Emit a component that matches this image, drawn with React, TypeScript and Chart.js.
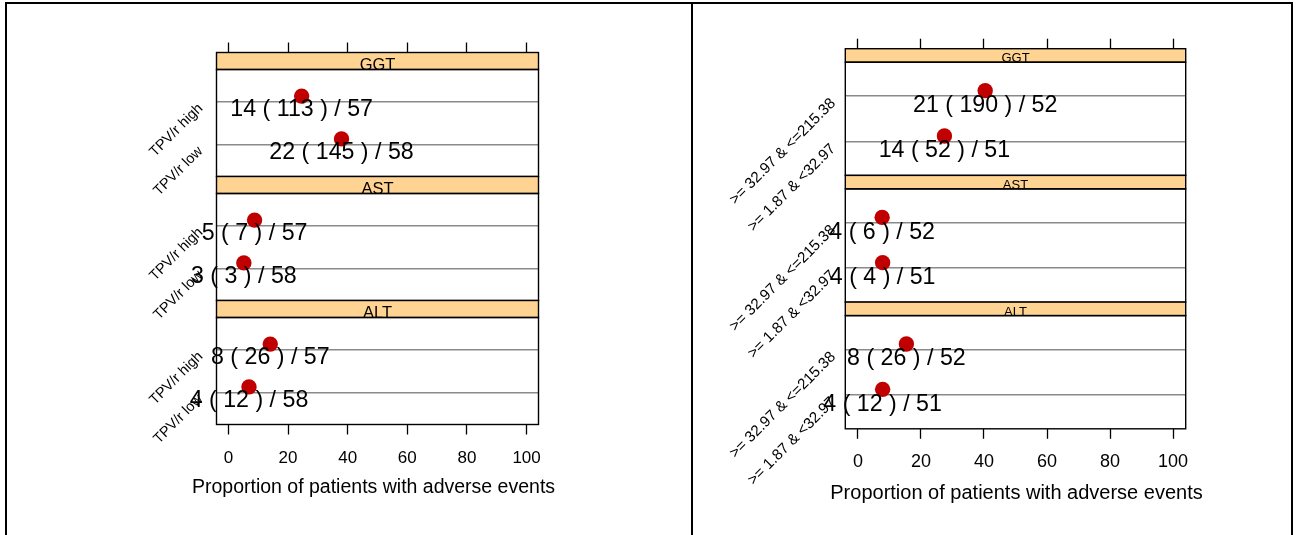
import React, { useEffect, useRef } from 'react';
import { Chart, registerables } from 'chart.js';

Chart.register(...registerables);

// ---------------- data ----------------
const facets = ['GGT', 'AST', 'ALT'];
const xTicks = [0, 20, 40, 60, 80, 100];
const xTitle = 'Proportion of patients with adverse events';

// group index 0 = bottom row, 1 = top row
const leftGroups = ['TPV/r low', 'TPV/r high'];
const leftTotals = [58, 57];
const leftPatients = [
  [22, 14], // GGT
  [3, 5], // AST
  [4, 8], // ALT
];
const leftEvents = [
  [145, 113],
  [3, 7],
  [12, 26],
];

const rightGroups = ['>= 1.87 & <32.97', '>= 32.97 & <=215.38'];
const rightTotals = [51, 52];
const rightPatients = [
  [14, 21],
  [4, 4],
  [4, 8],
];
const rightEvents = [
  [52, 190],
  [4, 6],
  [12, 26],
];

// ---------------- layout / style ----------------
const FONT = 'Arial, Helvetica, sans-serif';
const STRIP_FILL = '#FFD391';
const POINT_COLOR = '#C00000';
const GRID_COLOR = '#8a8a8a';
const CANVAS_H = 535;

type Layout = {
  canvasX: number; canvasW: number; panelL: number; panelR: number; yAxisW: number;
  stripTop: number; stripH: number; panelH: number; tickLen: number;
  yFont: number; yPad: number; yOff: number; stripFont: number;
  tickFont: number; tickPad: number; titleFont: number; titleDx: number; titleDy: number; axisH: number;
  valueFont: number; valueBase: number; lift: number; pointR: number;
};

const LAYOUTS: Layout[] = [
  {
    canvasX: 0, canvasW: 692, panelL: 216.5, panelR: 538.5, yAxisW: 200,
    stripTop: 52.5, stripH: 17, panelH: 107, tickLen: 10,
    yFont: 14.5, yPad: 16, yOff: 4.5, stripFont: 16.5,
    tickFont: 17, tickPad: 13.3, titleFont: 19.5, titleDx: -4, titleDy: 63.5, axisH: 80,
    valueFont: 23.2, valueBase: 14.3, lift: 5.5, pointR: 7.7,
  },
  {
    canvasX: 692, canvasW: 604, panelL: 845.3, panelR: 1185.7, yAxisW: 150,
    stripTop: 48.7, stripH: 13.5, panelH: 113.2, tickLen: 10,
    yFont: 15.2, yPad: 12, yOff: 5, stripFont: 13,
    tickFont: 18, tickPad: 12.1, titleFont: 20, titleDx: 1, titleDy: 64.5, axisH: 80,
    valueFont: 23.2, valueBase: 15.8, lift: 5.5, pointR: 7.7,
  },
];

const SIDES = [
  { groups: leftGroups, totals: leftTotals, patients: leftPatients, events: leftEvents },
  { groups: rightGroups, totals: rightTotals, patients: rightPatients, events: rightEvents },
];

function makePanel(canvas: HTMLCanvasElement, s: number, i: number) {
  const L = LAYOUTS[s];
  const side = SIDES[s];
  const pct = side.patients[i].map((n, g) => (n / side.totals[g]) * 100);
  const labels = side.patients[i].map((n, g) => `${n} ( ${side.events[i][g]} ) / ${side.totals[g]}`);

  const panelTop = L.stripTop + i * (L.stripH + L.panelH) + L.stripH;
  const panelBottom = panelTop + L.panelH;
  const topAxisH = i === 0 ? L.tickLen + L.stripH : 0;
  const bottomAxisH = i === 2 ? L.axisH : 0;

  const deco = {
    id: 'deco' + s + i,
    beforeDatasetDraw(chart: any) {
      chart.ctx.save();
      chart.ctx.translate(0, -L.lift);
    },
    afterDatasetDraw(chart: any) {
      chart.ctx.restore();
    },
    afterDatasetsDraw(chart: any) {
      const { ctx, scales } = chart;
      ctx.save();
      ctx.font = `${L.valueFont}px ${FONT}`;
      ctx.fillStyle = '#000';
      ctx.textAlign = 'center';
      ctx.textBaseline = 'alphabetic';
      labels.forEach((t, g) => {
        ctx.fillText(t, scales.x.getPixelForValue(pct[g]), scales.y.getPixelForValue(g + 1) + L.valueBase);
      });
      ctx.restore();
    },
    afterDraw(chart: any) {
      const { ctx, chartArea: a } = chart;
      const st = a.top - L.stripH;
      const w = a.right - a.left;
      ctx.save();
      ctx.fillStyle = STRIP_FILL;
      ctx.fillRect(a.left, st, w, L.stripH);
      ctx.save();
      ctx.beginPath();
      ctx.rect(a.left, st, w, L.stripH);
      ctx.clip();
      ctx.fillStyle = '#000';
      ctx.font = `${L.stripFont}px ${FONT}`;
      ctx.textAlign = 'center';
      ctx.textBaseline = 'alphabetic';
      ctx.fillText(facets[i], (a.left + a.right) / 2, a.top);
      ctx.restore();
      ctx.strokeStyle = '#000';
      ctx.lineWidth = 1.4;
      ctx.strokeRect(a.left, st, w, L.stripH);
      ctx.strokeRect(a.left, a.top, w, a.bottom - a.top);
      if (i === facets.length - 1) {
        // axis title, drawn without Chart.js' max-width squeeze
        ctx.fillStyle = '#000';
        ctx.font = `${L.titleFont}px ${FONT}`;
        ctx.textAlign = 'center';
        ctx.textBaseline = 'middle';
        ctx.fillText(xTitle, (a.left + a.right) / 2 + L.titleDx, a.bottom + L.titleDy);
      }
      ctx.restore();
    },
  };

  return new Chart(canvas, {
    type: 'scatter',
    data: {
      datasets: [
        {
          data: pct.map((x, g) => ({ x, y: g + 1 })),
          pointRadius: L.pointR,
          pointHoverRadius: L.pointR,
          pointBackgroundColor: POINT_COLOR,
          pointBorderColor: POINT_COLOR,
          pointBorderWidth: 0,
          clip: false as any,
        },
      ],
    },
    options: {
      animation: false,
      responsive: false,
      events: [],
      layout: {
        padding: {
          left: L.panelL - L.canvasX - L.yAxisW,
          right: L.canvasX + L.canvasW - L.panelR,
          top: panelTop - topAxisH,
          bottom: CANVAS_H - panelBottom - bottomAxisH,
        },
      },
      plugins: { legend: { display: false }, tooltip: { enabled: false } },
      scales: {
        x: {
          type: 'linear',
          min: -4,
          max: 104,
          position: i === 0 ? 'top' : 'bottom',
          display: i !== 1,
          afterBuildTicks: (sc: any) => {
            sc.ticks = xTicks.map((v) => ({ value: v }));
          },
          afterFit: (sc: any) => {
            sc.height = i === 0 ? topAxisH : bottomAxisH;
          },
          ticks: {
            display: i === 2,
            autoSkip: false,
            maxRotation: 0,
            color: '#000',
            padding: L.tickPad,
            font: { family: FONT, size: L.tickFont },
          },
          grid: {
            drawOnChartArea: false,
            drawTicks: true,
            tickLength: i === 0 ? L.tickLen + L.stripH : L.tickLen,
            tickColor: '#000',
            tickWidth: 1.3,
          },
          border: { display: false },
          title: { display: false },
        },
        y: {
          type: 'linear',
          min: 0.25,
          max: 2.75,
          afterBuildTicks: (sc: any) => {
            sc.ticks = side.groups.map((_, g) => ({ value: g + 1 }));
          },
          afterFit: (sc: any) => {
            sc.width = L.yAxisW;
          },
          ticks: {
            autoSkip: false,
            minRotation: 45,
            maxRotation: 45,
            padding: L.yPad,
            labelOffset: L.yOff,
            color: '#000',
            font: { family: FONT, size: L.yFont },
            callback: (v: any) => side.groups[Math.round(Number(v)) - 1] ?? '',
          },
          grid: { drawTicks: false, color: GRID_COLOR, lineWidth: 1.5 },
          border: { display: false },
        },
      },
    } as any,
    plugins: [deco],
  });
}

export default function App() {
  const refs = useRef<(HTMLCanvasElement | null)[]>([]);

  useEffect(() => {
    const charts: Chart[] = [];
    for (let s = 0; s < 2; s++) {
      for (let i = 0; i < facets.length; i++) {
        const c = refs.current[s * 3 + i];
        if (c) charts.push(makePanel(c, s, i));
      }
    }
    return () => charts.forEach((c) => c.destroy());
  }, []);

  return (
    <div style={{ position: 'absolute', left: 0, top: 0, width: 1296, height: 535, overflow: 'hidden', background: '#fff' }}>
      <div
        style={{
          position: 'absolute', left: 5, top: 2, width: 1288, height: 600,
          borderTop: '2px solid #000', borderLeft: '2px solid #000', borderRight: '2px solid #000',
          boxSizing: 'border-box',
        }}
      />
      <div style={{ position: 'absolute', left: 691, top: 2, width: 2, height: 600, background: '#000' }} />
      {LAYOUTS.map((L, s) =>
        facets.map((f, i) => (
          <canvas
            key={`${s}-${f}`}
            ref={(el) => {
              refs.current[s * 3 + i] = el;
            }}
            width={L.canvasW}
            height={CANVAS_H}
            style={{ position: 'absolute', left: L.canvasX, top: 0, width: L.canvasW, height: CANVAS_H }}
          />
        ))
      )}
    </div>
  );
}
